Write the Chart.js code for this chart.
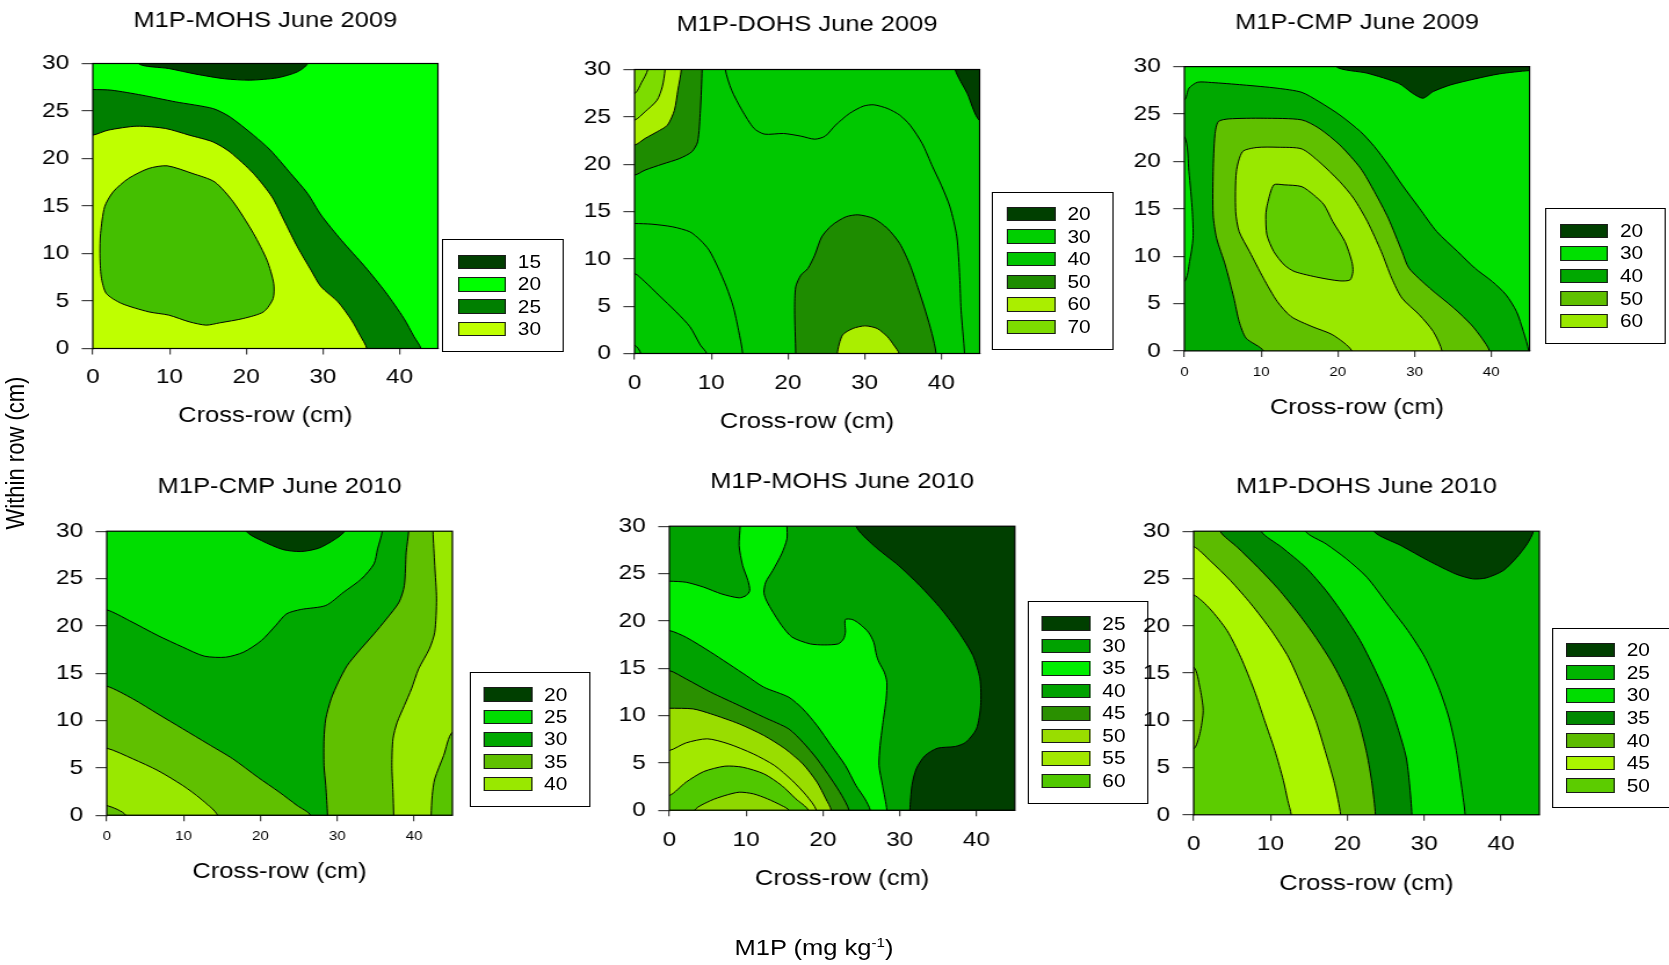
<!DOCTYPE html>
<html>
<head>
<meta charset="utf-8">
<title>M1P contour maps</title>
<script src="https://cdn.jsdelivr.net/npm/chart.js@4.4.1/dist/chart.umd.min.js"></script>
<style>
  html, body { margin: 0; padding: 0; background: #fff; }
  body { width: 1669px; height: 965px; overflow: hidden; position: relative; }
  /* the whole sheet is printed slightly wide */
  #sheet { position: absolute; left: 0; top: 0; width: 1439px; height: 965px;
           transform: scaleX(1.16); transform-origin: 0 0;
           font-family: "Liberation Sans", Arial, Helvetica, sans-serif; color: #000; }
  #sheet canvas { position: absolute; }
  .key { position: absolute; box-sizing: border-box; border: 1.4px solid #000; }
  .key .sw { position: absolute; box-sizing: border-box; border: 1px solid #1a1a1a; height: 14.5px; }
  .key .lv { position: absolute; font-size: 18px; line-height: 18px; white-space: nowrap; }
  .axis-label { position: absolute; font-size: 22px; line-height: 26px; white-space: nowrap; }
  #ylab { left: 14px; top: 453px; transform: translate(-50%, -50%) rotate(-90deg); }
  #unit { left: 701.7px; top: 948px; transform: translate(-50%, -50%); }
  #unit sup { font-size: 13px; line-height: 0; }
</style>
</head>
<body>
<div id="sheet">
  <div class="axis-label" id="ylab">Within row (cm)</div>
  <div class="axis-label" id="unit">M1P (mg kg<sup>-1</sup>)</div>
</div>
<script>
// axes
const xTicks = [0, 10, 20, 30, 40];
const yTicks = [0, 5, 10, 15, 20, 25, 30];
const xTitle = 'Cross-row (cm)';

// contour lines are [cross-row cm, within-row cm]

// M1P-MOHS June 2009
const mohs09Levels = [15, 20, 25, 30];
const mohs09Top = [[5.95,30],[9.92,29.47],[13.45,28.88],[17.2,28.39],[20.5,28.25],[24.04,28.49],[26.68,29.12],[28.0,30]];
const mohs09Edge25 = [[0,27.26],[2.43,27.19],[6.39,26.67],[10.8,25.96],[15.66,25.26],[17.86,24.39],[20.95,22.46],[23.15,20.88],[25.8,18.42],[28.0,16.32],[29.77,14.04],[32.41,11.4],[35.5,8.6],[38.15,5.96],[40.57,3.16],[41.9,1.23],[42.78,0]];
const mohs09Edge30 = [[0,22.46],[1.98,22.98],[5.73,23.4],[9.48,23.16],[12.57,22.46],[15.66,21.75],[17.86,20.7],[20.95,18.42],[23.37,15.96],[24.92,13.51],[26.68,10.7],[28.45,8.25],[29.77,6.49],[31.97,4.91],[33.74,2.98],[34.84,1.4],[35.72,0]];
const mohs09Core = [[1.54,14.91],[2.65,16.49],[4.63,17.89],[7.28,18.95],[9.7,19.23],[13.01,18.42],[15.88,17.54],[18.3,15.44],[20.95,12.11],[22.71,9.3],[23.59,6.84],[23.51,5.26],[22.27,3.86],[19.63,3.16],[16.54,2.7],[14.77,2.46],[12.57,2.81],[9.92,3.51],[7.28,3.86],[3.75,4.74],[1.76,5.79],[1.1,7.54],[0.93,10.0],[1.01,12.11]];

// M1P-DOHS June 2009
const dohs09Levels = [20, 30, 40, 50, 60, 70];
const dohs09Split = [[11.84,30],[12.66,27.82],[14.01,25.7],[15.59,23.77],[16.95,23.17],[19.44,23.24],[21.69,22.96],[23.5,22.64],[24.86,22.96],[26.21,24.12],[28.02,25.35],[29.83,26.13],[31.19,26.27],[32.99,25.88],[34.58,25.18],[35.93,24.12],[37.51,22.18],[38.87,19.72],[40.0,17.78],[41.13,15.49],[42.03,12.32],[42.4,8.1],[42.58,4.58],[43.03,0]];
const dohs09LowA = [[0,13.73],[2.26,13.66],[4.97,13.38],[7.23,12.85],[8.59,11.97],[9.72,10.92],[10.85,9.15],[11.98,7.04],[12.88,4.93],[13.56,2.46],[14.1,0]];
const dohs09LowB = [[0,8.45],[1.36,7.57],[3.16,6.16],[5.42,4.4],[7.23,2.82],[8.59,0.88],[9.4,0]];
const dohs09LowC = [[0,0.88],[0.81,0]];
const dohs09Patch50 = [[21.02,0],[20.88,4.58],[21.02,7.04],[21.69,8.27],[22.6,8.98],[23.5,10.39],[24.41,12.32],[25.76,13.56],[27.57,14.44],[29.15,14.65],[31.19,14.26],[32.99,13.2],[34.58,11.62],[35.93,9.33],[37.06,6.69],[37.97,4.4],[38.78,2.11],[39.32,0]];
const dohs09Patch60 = [[26.44,0],[27.12,1.94],[28.47,2.64],[30.06,2.92],[31.64,2.64],[32.99,1.76],[33.81,0.88],[34.49,0]];
const dohs09Edge50 = [[0,18.84],[1.36,19.37],[3.62,20.0],[5.88,20.6],[7.46,21.3],[8.23,22.36],[8.59,25.7],[8.81,30]];
const dohs09Edge60 = [[0,22.01],[1.36,22.71],[2.94,23.42],[4.29,24.12],[5.2,25.7],[5.65,27.82],[6.1,30]];
const dohs09Edge70 = [[0,24.65],[1.36,25.53],[2.94,26.76],[3.62,28.17],[3.98,30]];
const dohs09Edge80 = [[0,27.46],[0.9,28.6],[1.72,30]];
const dohs09Corner20 = [[41.81,30],[43.39,27.46],[45,24.6]];

// M1P-CMP June 2009
const cmp09Levels = [20, 30, 40, 50, 60];
const cmp09Top20 = [[19.8,30],[23.86,29.3],[27.93,28.24],[29.74,27.19],[31.1,26.66],[32.45,27.37],[34.71,28.07],[37.88,28.7],[41.04,29.23],[45,29.58]];
const cmp09Edge40 = [[0,26.49],[0.59,27.72],[1.72,28.35],[3.53,28.32],[7.59,28.07],[12.11,27.72],[15.28,27.29],[17.54,26.31],[20.25,24.9],[22.96,23.14],[24.77,21.56],[26.58,19.63],[28.38,17.52],[30.64,15.05],[32.9,12.59],[35.62,10.48],[37.88,8.72],[40.14,7.32],[41.94,5.91],[43.3,4.15],[44.2,2.04],[44.88,0]];
const cmp09Strip30 = [[0,22.62],[0.59,18.92],[1.04,14.7],[1.13,11.89],[0.68,9.43],[0,7.32]];
const cmp09Edge50 = [[10.31,0],[8.05,1.34],[7.14,3.1],[6.46,5.56],[5.33,9.07],[4.2,11.89],[3.75,14.35],[3.75,18.92],[3.98,22.79],[4.43,24.2],[5.79,24.48],[10.31,24.55],[15.28,24.38],[17.54,23.5],[20.25,21.74],[22.96,19.28],[24.77,16.81],[26.58,14.0],[28.38,10.48],[29.29,8.72],[32.0,6.61],[35.16,4.5],[37.42,2.74],[38.78,1.34],[39.77,0]];
const cmp09Edge60 = [[21.83,0],[19.34,1.69],[16.63,2.57],[13.92,3.62],[12.11,5.21],[10.31,7.67],[8.5,10.48],[7.14,12.59],[6.69,14.7],[6.78,18.92],[7.59,21.03],[9.4,21.46],[12.11,21.49],[15.28,21.32],[17.54,19.98],[20.25,17.87],[22.06,16.11],[23.86,13.65],[25.67,10.48],[27.03,7.67],[28.38,5.56],[30.64,3.8],[32.45,2.04],[33.58,0]];
const cmp09Core = [[11.66,17.52],[13.02,17.52],[15.28,17.34],[16.86,16.46],[18.21,15.41],[19.34,13.65],[20.93,11.54],[21.83,9.43],[21.97,8.37],[21.6,7.49],[20.25,7.39],[17.54,7.74],[14.37,8.37],[13.02,9.07],[11.66,10.48],[10.76,12.24],[10.62,14.35],[10.85,15.58]];

// M1P-CMP June 2010
const cmp10Levels = [20, 25, 30, 35, 40];
const cmp10Edge25 = [[0,21.69],[2.93,20.56],[6.65,18.98],[9.91,17.75],[12.7,16.8],[15.49,16.69],[17.81,17.22],[20.14,18.45],[22.0,20.04],[23.4,21.27],[25.26,21.73],[28.51,22.15],[30.84,23.56],[33.16,24.96],[34.79,26.55],[35.26,28.13],[35.86,30]];
const cmp10Top20 = [[18.19,30],[20.14,29.01],[22.93,28.06],[25.26,27.85],[27.58,28.2],[29.67,29.12],[30.93,30]];
const cmp10Low35 = [[0,13.63],[3.4,12.29],[6.65,10.7],[9.91,9.12],[13.16,7.54],[16.42,5.95],[19.67,4.01],[22.47,2.43],[24.79,1.02],[26.51,0]];
const cmp10Low40 = [[0,7.08],[3.4,5.95],[6.65,4.72],[9.91,3.13],[12.23,1.73],[14.42,0]];
const cmp10Corner = [[0,1.02],[2.47,0]];
const cmp10Right35 = [[39.3,30],[38.98,27.78],[38.74,24.26],[38.05,22.5],[36.42,20.74],[34.79,19.15],[32.7,17.22],[31.3,15.81],[30.14,14.05],[29.21,12.29],[28.51,10.18],[28.28,8.06],[28.28,5.25],[28.51,3.13],[28.74,0]];
const cmp10Right40 = [[42.47,30],[42.7,26.37],[42.93,22.85],[42.7,19.33],[42.0,17.57],[40.6,15.46],[39.67,13.35],[38.74,11.58],[37.81,9.82],[37.26,8.06],[37.12,5.25],[37.26,2.43],[37.35,0]];
const cmp10EdgeBR = [[45,8.77],[43.86,6.3],[42.7,3.84],[42.37,2.08],[42.23,0]];

// M1P-MOHS June 2010
const mohs10Levels = [25, 30, 35, 40, 45, 50, 55, 60];
const mohs10Edge25 = [[24.31,30],[26.62,27.96],[29.85,25.85],[32.62,23.73],[35.39,21.27],[37.69,18.8],[39.54,16.34],[40.46,13.87],[40.55,11.06],[40.0,8.59],[38.62,7.18],[37.23,6.73],[34.93,6.55],[33.31,5.77],[32.16,4.37],[31.6,2.61],[31.33,0]];
const mohs10Low35 = [[0,18.98],[2.17,18.27],[5.4,16.69],[10.01,14.23],[12.32,12.99],[15.55,11.94],[17.39,10.7],[19.24,8.94],[21.08,6.83],[22.93,4.72],[24.31,2.61],[25.47,1.2],[26.16,0]];
const mohs10Right35 = [[28.33,0],[27.77,2.61],[27.31,4.72],[27.45,6.83],[27.77,8.94],[28.24,11.76],[28.33,13.52],[28.0,14.58],[27.31,15.63],[26.99,16.34],[26.62,17.75],[25.93,18.8],[24.78,19.68],[23.85,20.14],[22.93,20.14],[22.93,18.8],[22.7,18.1],[22.01,17.57],[20.16,17.46],[18.32,17.57],[16.01,18.27],[14.63,19.51],[13.24,21.27],[12.55,22.32],[12.32,23.03],[12.55,24.08],[13.47,25.32],[14.63,27.08],[15.32,28.66],[15.32,30]];
const mohs10Neck35 = [[9.23,30],[9.09,27.96],[9.55,25.85],[10.24,24.26],[10.47,23.2],[10.01,22.68],[9.09,22.43],[6.78,22.85],[4.48,23.56],[2.17,24.08],[0,24.19]];
const mohs10Edge45 = [[0,14.75],[2.17,13.87],[5.4,12.46],[9.09,11.06],[12.32,9.82],[15.55,8.59],[17.39,7.18],[19.24,5.42],[21.08,3.31],[22.47,1.55],[23.39,0]];
const mohs10Edge50 = [[0,10.77],[3.09,10.7],[5.4,10.18],[9.09,9.12],[12.32,7.89],[15.09,6.48],[17.39,4.89],[19.24,2.96],[20.39,1.2],[21.08,0]];
const mohs10Edge55 = [[0,6.3],[2.17,7.11],[4.94,7.54],[7.7,7.01],[10.93,5.95],[13.7,4.72],[16.01,3.13],[17.85,1.55],[19.15,0]];
const mohs10Edge60 = [[0,1.55],[2.17,2.96],[4.48,4.08],[7.24,4.65],[9.55,4.54],[12.32,3.84],[14.63,2.61],[16.47,1.2],[18.09,0]];
const mohs10Core = [[3.32,0],[5.4,1.02],[7.24,1.55],[9.09,1.9],[10.93,1.73],[12.78,1.2],[14.63,0.49],[15.55,0]];

// M1P-DOHS June 2010
const dohs10Levels = [20, 25, 30, 35, 40, 45, 50];
const dohs10Edge30 = [[14.56,30],[17.23,28.66],[19.89,27.07],[22.55,25.13],[25.22,22.31],[27.88,19.49],[30.1,16.67],[31.88,13.5],[33.21,10.33],[34.1,7.16],[34.76,3.63],[35.34,0]];
const dohs10Edge35 = [[8.79,30],[11.45,28.31],[14.56,26.19],[17.23,23.72],[19.45,21.25],[21.67,18.43],[23.44,15.62],[25.22,12.44],[26.55,9.27],[27.66,6.1],[28.1,3.28],[28.41,0]];
const dohs10Edge40 = [[3.46,30],[5.68,28.31],[8.35,26.19],[11.01,23.9],[13.67,21.25],[15.89,18.78],[18.11,15.96],[19.89,13.15],[21.44,9.98],[22.55,6.45],[23.22,3.28],[23.66,0]];
const dohs10Edge45 = [[0,28.37],[2.13,26.89],[4.79,24.78],[7.46,22.31],[10.12,19.49],[12.34,16.67],[14.12,13.5],[15.89,9.98],[17.23,6.45],[18.34,3.28],[19.13,0]];
const dohs10Edge50 = [[0,23.26],[2.13,21.78],[4.35,19.49],[6.13,16.67],[7.9,13.15],[9.23,9.98],[10.57,6.8],[11.68,3.63],[12.25,1.52],[12.7,0]];
const dohs10Bulge = [[0,15.62],[0.8,13.5],[1.24,11.03],[0.8,8.57],[0,6.98]];
const dohs10Top20 = [[23.44,30],[26.99,28.48],[30.54,26.89],[34.1,25.48],[36.32,24.96],[38.09,25.06],[40.31,25.84],[42.09,27.25],[43.42,28.66],[44.22,30]];

// fill colours for each legend entry
const mohs09Palette = ['#003f00', '#00ff00', '#007f00', '#bfff00'];
const dohs09Palette = ['#003f00', '#00cf00', '#00c600', '#1e8c00', '#aaee00', '#7ddc00'];
const cmp09Palette = ['#003f00', '#00e000', '#00a800', '#60c000', '#99e800'];
const cmp10Palette = ['#003f00', '#00dd00', '#00a800', '#60c000', '#99e800'];
const mohs10Palette = ['#003f00', '#00a200', '#00ee00', '#00a200', '#2a9000', '#99dd00', '#a2e800', '#50c800'];
const dohs10Palette = ['#003f00', '#00b400', '#00dd00', '#008800', '#5cbb00', '#aaf500', '#5ccc00'];

const ALL = ['bl', 'br', 'tr', 'tl'];

// frame = plot rectangle on the page, key = legend box, both in page pixels
const panels = [
  { title: 'M1P-MOHS June 2009', levels: mohs09Levels, colors: mohs09Palette,
    layers: [
      { fill: '#00ff00', parts: ALL },
      { fill: '#007f00', parts: [mohs09Edge25, 'bl'] },
      { fill: '#bfff00', parts: [mohs09Edge30, 'bl'] },
      { fill: '#44bf00', loop: mohs09Core },
      { fill: '#003f00', parts: [mohs09Top] }
    ],
    frame: { L: 92.4, R: 437.5, T: 63.3, B: 348.3, titleY: 21, axisY: 416, tickY: 376.7, xTick: 21 },
    key: { box: [442.2, 239, 563.9, 352], sw: [458.1, 506.8], text: 518.3, top: 255, step: 22.4 } },
  { title: 'M1P-DOHS June 2009', levels: dohs09Levels, colors: dohs09Palette,
    layers: [
      { fill: '#00c800', parts: ALL },
      { fill: '#00c800', parts: [dohs09Split, 'br', 'tr'] },
      { fill: '#00c800', parts: [dohs09LowA, 'bl'] },
      { fill: '#00c800', parts: [dohs09LowB, 'bl'] },
      { fill: '#00c800', parts: [dohs09LowC, 'bl'] },
      { fill: '#1e8c00', parts: [dohs09Patch50] },
      { fill: '#aaee00', parts: [dohs09Patch60] },
      { fill: '#1e8c00', parts: [dohs09Edge50, 'tl'] },
      { fill: '#aaee00', parts: [dohs09Edge60, 'tl'] },
      { fill: '#7ddc00', parts: [dohs09Edge70, 'tl'] },
      { fill: '#7ddc00', parts: [dohs09Edge80, 'tl'] },
      { fill: '#003f00', parts: [dohs09Corner20, 'tr'] }
    ],
    frame: { L: 634.1, R: 979.2, T: 69.3, B: 353.3, titleY: 25, axisY: 421.7, tickY: 383.3, xTick: 21 },
    key: { box: [992.1, 191.7, 1113.7, 350], sw: [1007.7, 1056.4], text: 1067.9, top: 207.3, step: 22.55 } },
  { title: 'M1P-CMP June 2009', levels: cmp09Levels, colors: cmp09Palette,
    layers: [
      { fill: '#00e000', parts: ALL },
      { fill: '#00a800', parts: [cmp09Edge40, 'bl'] },
      { fill: '#00e000', parts: [cmp09Strip30] },
      { fill: '#60c000', parts: [cmp09Edge50] },
      { fill: '#99e800', parts: [cmp09Edge60] },
      { fill: '#5fcc00', loop: cmp09Core },
      { fill: '#003f00', parts: [cmp09Top20, 'tr'] }
    ],
    frame: { L: 1184.7, R: 1529.9, T: 66.7, B: 351, titleY: 23.3, axisY: 408.3, tickY: 372.3, xTick: 13 },
    key: { box: [1544.8, 208.3, 1665.5, 344], sw: [1560.4, 1608.3], text: 1620.4, top: 224, step: 22.6 } },
  { title: 'M1P-CMP June 2010', levels: cmp10Levels, colors: cmp10Palette,
    layers: [
      { fill: '#00a800', parts: ALL },
      { fill: '#00dd00', parts: [cmp10Edge25, 'tl'] },
      { fill: '#003f00', parts: [cmp10Top20] },
      { fill: '#60c000', parts: [cmp10Low35, 'bl'] },
      { fill: '#99e800', parts: [cmp10Low40, 'bl'] },
      { fill: '#60c000', parts: [cmp10Corner, 'bl'] },
      { fill: '#60c000', parts: [cmp10Right35, 'br', 'tr'] },
      { fill: '#99e800', parts: [cmp10Right40, 'br', 'tr'] },
      { fill: '#58c400', parts: [cmp10EdgeBR, 'br'] }
    ],
    frame: { L: 106.8, R: 452.5, T: 530.7, B: 814.7, titleY: 486.7, axisY: 871.7, tickY: 836, xTick: 13 },
    key: { box: [469.6, 671.7, 590.4, 806.7], sw: [484.6, 533.2], text: 544.6, top: 687.7, step: 22.4 } },
  { title: 'M1P-MOHS June 2010', levels: mohs10Levels, colors: mohs10Palette,
    layers: [
      { fill: '#00a200', parts: ALL },
      { fill: '#003f00', parts: [mohs10Edge25, 'br', 'tr'] },
      { fill: '#00ee00', parts: [mohs10Low35, mohs10Right35, mohs10Neck35] },
      { fill: '#2a9000', parts: [mohs10Edge45, 'bl'] },
      { fill: '#99dd00', parts: [mohs10Edge50, 'bl'] },
      { fill: '#a2e800', parts: [mohs10Edge55, 'bl'] },
      { fill: '#50c800', parts: [mohs10Edge60, 'bl'] },
      { fill: '#8ed800', parts: [mohs10Core] }
    ],
    frame: { L: 669.8, R: 1015.3, T: 525.7, B: 809.7, titleY: 481.7, axisY: 878.3, tickY: 839.3, xTick: 21 },
    key: { box: [1028, 600.7, 1148.3, 803.7], sw: [1042.6, 1091], text: 1102.8, top: 616.7, step: 22.47 } },
  { title: 'M1P-DOHS June 2010', levels: dohs10Levels, colors: dohs10Palette,
    layers: [
      { fill: '#00b400', parts: ALL },
      { fill: '#00dd00', parts: [dohs10Edge30, 'bl', 'tl'] },
      { fill: '#008800', parts: [dohs10Edge35, 'bl', 'tl'] },
      { fill: '#5cbb00', parts: [dohs10Edge40, 'bl', 'tl'] },
      { fill: '#aaf500', parts: [dohs10Edge45, 'bl'] },
      { fill: '#5ccc00', parts: [dohs10Edge50, 'bl'] },
      { fill: '#74c800', parts: [dohs10Bulge] },
      { fill: '#003f00', parts: [dohs10Top20] }
    ],
    frame: { L: 1193.6, R: 1539.3, T: 530.7, B: 814.3, titleY: 486.7, axisY: 883.3, tickY: 843.3, xTick: 21 },
    key: { box: [1551.5, 628.3, 1672, 808.3], sw: [1566.8, 1615.2], text: 1627.1, top: 643.3, step: 22.6 } }
];

const S = 1.16;                 // horizontal stretch of #sheet
const FONT = '"Liberation Sans", Arial, Helvetica, sans-serif';
Chart.defaults.font.family = FONT;
Chart.defaults.color = '#000';

// points just outside the plot, used to close regions that touch the frame
const CORNER = { bl: [-4, -4], br: [49, -4], tr: [49, 34], tl: [-4, 34] };

function outward([x, y]) {
  const d = 2.5;
  if (x <= 0.01) return [x - d, y];
  if (x >= 44.99) return [x + d, y];
  if (y <= 0.01) return [x, y - d];
  return [x, y + d];
}

function regionPoints(parts) {
  const out = [];
  for (const part of parts) {
    if (typeof part === 'string') { out.push(CORNER[part]); continue; }
    out.push(outward(part[0]), ...part, outward(part[part.length - 1]));
  }
  return out;
}

function loopPoints(pts) {
  const n = pts.length;
  return [pts[n - 1], ...pts, pts[0], pts[1]];
}

// fill each contour region with the line element's own path before its outline is stroked
const regionFill = {
  id: 'regionFill',
  beforeDatasetDraw(chart, args) {
    const ds = chart.data.datasets[args.index];
    const line = args.meta.dataset;
    if (!line || !ds.shapeColor) return;
    const a = chart.chartArea, ctx = chart.ctx;
    line.updateControlPoints(a, 'x');
    ctx.save();
    ctx.beginPath();
    ctx.rect(a.left, a.top, a.right - a.left, a.bottom - a.top);
    ctx.clip();
    ctx.beginPath();
    line.path(ctx);
    ctx.closePath();
    ctx.fillStyle = ds.shapeColor;
    ctx.fill();
    ctx.restore();
  }
};

const plotFrame = {
  id: 'plotFrame',
  afterDatasetsDraw(chart) {
    const a = chart.chartArea, ctx = chart.ctx;
    ctx.save();
    ctx.strokeStyle = '#000';
    ctx.lineWidth = 1.2;
    ctx.strokeRect(a.left, a.top, a.right - a.left, a.bottom - a.top);
    ctx.restore();
  }
};

function addPanel(p) {
  const sheet = document.getElementById('sheet');
  const f = p.frame;
  const L = f.L / S, R = f.R / S;
  const fs = 22, lh = fs * 1.2;
  const yw = 58, padL = 2, padT = 2;
  const yTickLen = 9.6, xTickLen = 6;
  const top = f.titleY - lh / 2 - padT;
  const xh = f.axisY + lh / 2 - f.B;
  const w = Math.ceil(R - L + yw + padL + 4);
  const h = Math.ceil(f.B - top + xh + 4);
  const padR = w - (R - L) - yw - padL;
  const padB = h - (f.B - top) - xh;

  const canvas = document.createElement('canvas');
  canvas.width = w;
  canvas.height = h;
  canvas.style.left = (L - yw - padL) + 'px';
  canvas.style.top = top + 'px';
  sheet.appendChild(canvas);

  const n = p.layers.length;
  const datasets = p.layers.map((ly, i) => {
    const pts = ly.loop ? loopPoints(ly.loop) : regionPoints(ly.parts);
    const last = pts.length - 1;
    const ds = {
      data: pts.map(([x, y]) => ({ x, y })),
      showLine: true,
      pointRadius: 0,
      pointHoverRadius: 0,
      borderColor: '#000',
      borderWidth: 1,
      tension: 0.25,
      shapeColor: ly.fill,
      order: n - i
    };
    if (ly.loop) {
      ds.segment = { borderColor: c => (c.p0DataIndex === 0 || c.p1DataIndex === last) ? 'rgba(0,0,0,0)' : undefined };
    }
    return ds;
  });

  new Chart(canvas, {
    type: 'scatter',
    data: { datasets },
    plugins: [regionFill, plotFrame],
    options: {
      responsive: false,
      animation: false,
      events: [],
      layout: { padding: { left: padL, right: padR, top: padT, bottom: padB } },
      elements: { line: { capBezierPoints: false } },
      plugins: {
        legend: { display: false },
        tooltip: { enabled: false },
        title: {
          display: true, text: p.title, fullSize: false, color: '#000',
          font: { size: fs, weight: 'normal' },
          padding: { top: 0, bottom: f.T - f.titleY - lh / 2 }
        }
      },
      scales: {
        x: {
          type: 'linear', min: 0, max: 45,
          afterBuildTicks: s => { s.ticks = xTicks.map(v => ({ value: v })); },
          afterFit: s => { s.height = xh; },
          grid: { drawOnChartArea: false, drawTicks: true, tickLength: xTickLen, color: '#444', lineWidth: 1.2 },
          border: { display: true, color: '#000', width: 1 },
          ticks: { color: '#000', font: { size: f.xTick }, padding: f.tickY - f.B - xTickLen - f.xTick * 0.6, maxRotation: 0, autoSkip: false },
          title: { display: true, text: xTitle, color: '#000', font: { size: fs }, padding: 0 }
        },
        y: {
          type: 'linear', min: 0, max: 30,
          afterBuildTicks: s => { s.ticks = yTicks.map(v => ({ value: v })); },
          afterFit: s => { s.width = yw; },
          grid: { drawOnChartArea: false, drawTicks: true, tickLength: yTickLen, color: '#444', lineWidth: 1.2 },
          border: { display: true, color: '#000', width: 1 },
          ticks: { color: '#000', font: { size: 21 }, padding: 10.7, autoSkip: false }
        }
      }
    }
  });
}

function addKey(p) {
  const sheet = document.getElementById('sheet');
  const k = p.key;
  const bw = 1.4;
  const box = document.createElement('div');
  box.className = 'key';
  box.style.left = (k.box[0] / S) + 'px';
  box.style.top = k.box[1] + 'px';
  box.style.width = ((k.box[2] - k.box[0]) / S) + 'px';
  box.style.height = (k.box[3] - k.box[1]) + 'px';
  p.levels.forEach((lv, i) => {
    const y = k.top + i * k.step - k.box[1] - bw;
    const sw = document.createElement('div');
    sw.className = 'sw';
    sw.style.left = ((k.sw[0] - k.box[0]) / S - bw) + 'px';
    sw.style.width = ((k.sw[1] - k.sw[0]) / S) + 'px';
    sw.style.top = y + 'px';
    sw.style.background = p.colors[i];
    const tx = document.createElement('span');
    tx.className = 'lv';
    tx.style.left = ((k.text - k.box[0]) / S - bw) + 'px';
    tx.style.top = (y + 7.25 - 9) + 'px';
    tx.textContent = lv;
    box.appendChild(sw);
    box.appendChild(tx);
  });
  sheet.appendChild(box);
}

panels.forEach(p => { addKey(p); addPanel(p); });
</script>
</body>
</html>
